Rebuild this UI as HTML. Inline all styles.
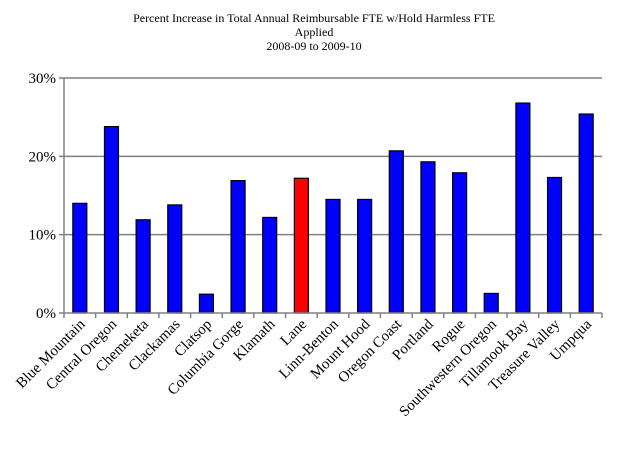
<!DOCTYPE html>
<html><head><meta charset="utf-8"><style>
body{margin:0;background:#fff}
svg text{font-family:"Liberation Serif",serif;fill:#000}
</style></head><body>
<svg width="624" height="453" xmlns="http://www.w3.org/2000/svg">
<g>
<text x="314" y="22" font-size="12" text-anchor="middle">Percent Increase in Total Annual Reimbursable FTE w/Hold Harmless FTE</text>
<text x="314" y="36" font-size="12" text-anchor="middle">Applied</text>
<text x="314" y="50" font-size="12" text-anchor="middle">2008-09  to  2009-10</text>
</g>
<g id="grid"></g>
<g id="bars"></g>
<g id="axes"></g>
</svg>
<script>
const categories=["Blue Mountain","Central Oregon","Chemeketa","Clackamas","Clatsop","Columbia Gorge","Klamath","Lane","Linn-Benton","Mount Hood","Oregon Coast","Portland","Rogue","Southwestern Oregon","Tillamook Bay","Treasure Valley","Umpqua"];
const values=[14.0,23.8,11.9,13.8,2.4,16.9,12.2,17.2,14.5,14.5,20.7,19.3,17.9,2.5,26.8,17.3,25.4];
const highlight=["Lane"];
const yTicks=[0,10,20,30];
const yTickLabels=["0%","10%","20%","30%"];
const NS="http://www.w3.org/2000/svg";
const X0=64,X1=602,Y0=313,Y1=78,yMax=30;
const step=(X1-X0)/categories.length;
const y=v=>Y0-(v/yMax)*(Y0-Y1);
const xc=i=>X0+step*(i+0.5);
function mk(t,a,p){const e=document.createElementNS(NS,t);for(const k in a)e.setAttribute(k,a[k]);p.appendChild(e);return e;}
const grid=document.getElementById('grid'),bars=document.getElementById('bars'),axes=document.getElementById('axes');
yTicks.forEach((t,i)=>{
  if(t>0){const l=mk('line',{x1:X0,x2:X1,y1:y(t),y2:y(t),stroke:'#808080','stroke-width':1.5},grid);
  
  }
  const tk=mk('line',{x1:X0-5,x2:X0,y1:y(t),y2:y(t),stroke:'#808080','stroke-width':1.5},axes);
  
  
  const tx=mk('text',{x:X0-8,y:y(t)+5,'font-size':15,'text-anchor':'end'},axes);
  tx.textContent=yTickLabels[i];
  
  
});
values.forEach((v,i)=>{
  const bw=14;
  const r=mk('rect',{x:xc(i)-bw/2,y:y(v),width:bw,height:Y0-y(v),fill:highlight.includes(categories[i])?'#ff0000':'#0000ff',stroke:'#000','stroke-width':1.2},bars);
  
  
});
const ya=mk('line',{x1:X0,x2:X0,y1:Y1,y2:Y0,stroke:'#808080','stroke-width':1.5},axes);


const xa=mk('line',{x1:X0,x2:X1,y1:Y0,y2:Y0,stroke:'#808080','stroke-width':1.5},axes);


for(let i=0;i<=categories.length;i++){
  const t=mk('line',{x1:X0+step*i,x2:X0+step*i,y1:Y0,y2:Y0+5,stroke:'#808080','stroke-width':1.5},axes);
  
  
}
categories.forEach((c,i)=>{
  const px=xc(i)+6,py=Y0+12;
  const t=mk('text',{x:px,y:py,'font-size':15,'text-anchor':'end',transform:`rotate(-45 ${px} ${py})`},axes);
  t.textContent=c;
  
  
});
</script>
</body></html>
